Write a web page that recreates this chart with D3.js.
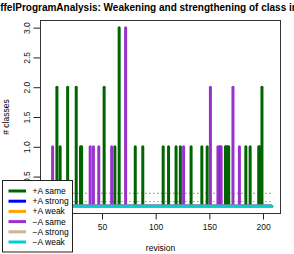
<!DOCTYPE html>
<meta charset="utf-8">
<head>
    <title>Class invariants</title>
    <style>
        body { margin: 0; background: #fff; }
        svg { display: block; font-family: "Liberation Sans", Arial, Helvetica, sans-serif; }
        .axis path, .axis line { stroke: #222; stroke-width: 1px; fill: none; }
        .axis text { font-size: 8.5px; fill: #111; }
    </style>
</head>
<body>
<svg width="294" height="254"></svg>
<script src="https://d3js.org/d3.v7.min.js"></script>
<script>
    // values
    var titleText = "EiffelProgramAnalysis: Weakening and strengthening of class invariants";
    var revFirst = 1, revLast = 208;

    var seriesNames = ["+A same", "+A strong", "+A weak", "\u2212A same", "\u2212A strong", "\u2212A weak"];
    var seriesColors = ["#006400", "#0000FF", "#FFA500", "#9932CC", "#D2B48C", "#00CED1"];

    // non-zero revisions of each series (all other revisions are 0)
    var plusSameRev = [8, 11, 18, 26, 30, 31, 52, 62, 66, 81, 88, 107, 112, 119, 123, 133, 143, 148, 160, 165, 166, 167, 168, 184, 188, 196, 197, 199];
    var plusSameVal = [2, 1, 2, 2, 1, 1, 2, 1, 3, 1, 1, 1, 1, 1, 1, 1, 1, 1, 1, 1, 1, 1, 1, 1, 1, 1, 1, 2];
    var plusStrongRev = [], plusStrongVal = [];
    var plusWeakRev = [], plusWeakVal = [];
    var minusSameRev = [4, 39, 42, 47, 59, 72, 126, 151, 158, 161, 172, 178];
    var minusSameVal = [1, 1, 1, 1, 1, 3, 1, 2, 1, 1, 2, 1];
    var minusStrongRev = [], minusStrongVal = [];
    var minusWeakRev = [], minusWeakVal = [];

    // dotted average lines
    var avgSeries = [0, 3];
    var avgValues = [0.22, 0.08];

    var xTicks = [50, 100, 150, 200];
    var yTicks = [0, 0.5, 1, 1.5, 2, 2.5, 3];

    var svg = d3.select("svg"),
        margin = {top: 20.5, right: 13.5, bottom: 40.5, left: 40.5},
        width = +svg.attr("width") - margin.left - margin.right,
        height = +svg.attr("height") - margin.top - margin.bottom;

    var revSpan = revLast - revFirst;
    var x = d3.scaleLinear()
        .domain([revFirst - 0.04 * revSpan, revLast + 0.04 * revSpan])
        .range([margin.left, margin.left + width]);
    var y = d3.scaleLinear()
        .domain([-0.12, 3.12])
        .range([margin.top + height, margin.top]);

    var revs = [plusSameRev, plusStrongRev, plusWeakRev, minusSameRev, minusStrongRev, minusWeakRev];
    var vals = [plusSameVal, plusStrongVal, plusWeakVal, minusSameVal, minusStrongVal, minusWeakVal];

    // title
    svg.append("text")
        .attr("x", margin.left + width / 2 + 3)
        .attr("y", 10.5)
        .attr("text-anchor", "middle")
        .style("font-size", "10px")
        .style("font-weight", "bold")
        .text(titleText);

    // axes
    svg.append("g")
        .attr("class", "axis")
        .attr("transform", "translate(0," + (margin.top + height) + ")")
        .call(d3.axisBottom(x).tickValues(xTicks).tickSize(6).tickPadding(4))
        .call(function(g) { g.select(".domain").remove(); });

    var gy = svg.append("g")
        .attr("class", "axis")
        .attr("transform", "translate(" + margin.left + ",0)")
        .call(d3.axisLeft(y).tickValues(yTicks).tickSize(7).tickFormat(d3.format(".1f")))
        .call(function(g) { g.select(".domain").remove(); });
    gy.selectAll(".tick text")
        .attr("x", 0).attr("dy", 0)
        .attr("text-anchor", "middle")
        .attr("transform", "translate(-11,0) rotate(-90)");

    svg.append("rect")
        .attr("x", margin.left).attr("y", margin.top)
        .attr("width", width).attr("height", height)
        .attr("fill", "none").attr("stroke", "#333").attr("stroke-width", 1);

    svg.append("text")
        .attr("x", margin.left + width / 2)
        .attr("y", 251)
        .attr("text-anchor", "middle")
        .style("font-size", "8.5px")
        .text("revision");

    svg.append("text")
        .attr("transform", "translate(9," + (margin.top + height / 2) + ") rotate(-90)")
        .attr("text-anchor", "middle")
        .style("font-size", "8.5px")
        .text("# classes");

    // dotted average lines
    svg.selectAll(".avg")
        .data(avgSeries)
        .enter().append("line")
        .attr("class", "avg")
        .attr("x1", x(revFirst)).attr("x2", x(revLast))
        .attr("y1", function(d, i) { return y(avgValues[i]); })
        .attr("y2", function(d, i) { return y(avgValues[i]); })
        .attr("stroke", function(d) { return seriesColors[d]; })
        .attr("stroke-width", 1)
        .attr("stroke-dasharray", "1,3");

    // series: baseline at zero plus a vertical bar for every non-zero revision
    seriesNames.forEach(function(name, s) {
        var g = svg.append("g")
            .attr("stroke", seriesColors[s])
            .attr("stroke-width", 3)
            .attr("stroke-linecap", "round");
        g.append("line")
            .attr("x1", x(revFirst)).attr("x2", x(revLast))
            .attr("y1", y(0)).attr("y2", y(0));
        g.selectAll("line.bar")
            .data(revs[s])
            .enter().append("line")
            .attr("class", "bar")
            .attr("x1", function(d) { return x(d); })
            .attr("x2", function(d) { return x(d); })
            .attr("y1", y(0))
            .attr("y2", function(d, i) { return y(vals[s][i]); });
    });

    // legend
    var legend = svg.append("g").attr("transform", "translate(2.5,180.5)");
    legend.append("rect")
        .attr("width", 70).attr("height", 71.5)
        .attr("fill", "#fff").attr("stroke", "#222").attr("stroke-width", 1);
    var rows = legend.selectAll(".row")
        .data(seriesNames)
        .enter().append("g")
        .attr("transform", function(d, i) { return "translate(0," + (10.5 + i * 10.2) + ")"; });
    rows.append("line")
        .attr("x1", 6).attr("x2", 23.5)
        .attr("stroke", function(d, i) { return seriesColors[i]; })
        .attr("stroke-width", 3);
    rows.append("text")
        .attr("x", 30)
        .attr("dy", "0.35em")
        .style("font-size", "8.5px")
        .text(function(d) { return d; });
</script>
</body>
